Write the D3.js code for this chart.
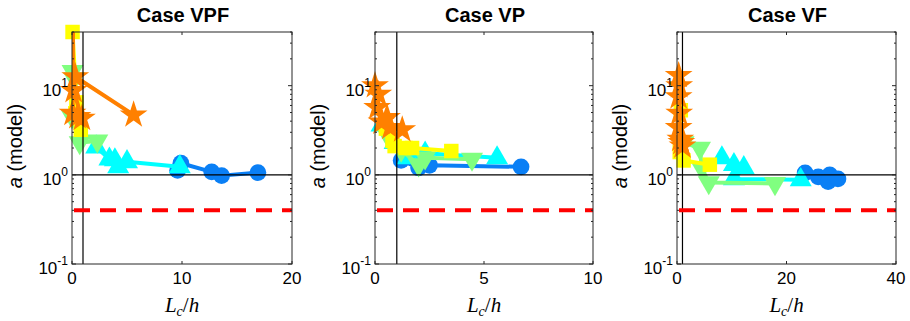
<!DOCTYPE html>
<html>
<head>
<meta charset="utf-8">
<script src="https://cdn.jsdelivr.net/npm/d3@7"></script>
<style>
  body { margin: 0; background: #fff; }
  text { font-family: "Liberation Sans", Arial, sans-serif; fill: #000; }
</style>
</head>
<body>
<svg id="chart" width="910" height="321"></svg>
<script>
// ---- data: [Lc/h, a] ----
var vpfBlue   = [[9.6,1.12],[9.9,1.35],[12.7,1.08],[13.6,0.98],[16.9,1.06]];
var vpfCyan   = [[2.2,2.05],[3.4,1.5],[3.9,1.47],[4.2,1.23],[5.0,1.4],[9.8,1.23]];
var vpfGreen  = [[0.05,14.5],[0.2,12],[0.0,4.5],[0.7,2.3],[2.3,2.4]];
var vpfYellow = [[0.05,40],[0.4,6.5],[0.3,4.9],[0.8,3.2]];
var vpfOrange = [[0.1,60],[0.05,4.9],[0.5,4.5],[0.9,4.3],[0.15,8.8],[0.3,12.6],[5.6,4.7]];

var vpBlue   = [[1.2,1.45],[2.0,1.2],[2.5,1.28],[6.7,1.23]];
var vpCyan   = [[0.3,3.6],[0.9,2.3],[1.5,1.55],[2.3,1.75],[5.6,1.55]];
var vpGreen  = [[0.5,3.0],[1.2,1.9],[2.0,1.3],[2.3,1.55],[4.45,1.5]];
var vpYellow = [[0.5,3.3],[0.8,2.4],[0.9,2.1],[1.4,2.0],[1.7,2.0],[3.5,1.85]];
var vpOrange = [[0.0,10],[0.15,8],[0.1,5.7],[0.3,3.9],[0.55,4.4],[0.7,3.4],[1.25,3.2]];

var vfBlue   = [[23.4,1.05],[25.8,0.95],[27.9,1.0],[27.6,0.84],[29.4,0.9]];
var vfCyan   = [[8.2,1.55],[10.4,1.3],[12.2,1.2],[10.4,0.9],[22.6,0.88]];
var vfGreen  = [[1.2,2.3],[4.2,2.0],[4.5,1.2],[5.8,0.82],[17.9,0.8]];
var vfYellow = [[0.7,5.3],[0.5,1.8],[1.2,1.45],[6.0,1.3]];
var vfOrange = [[0.3,13],[0.4,10],[0.3,7.5],[0.4,4.9],[0.3,3.4],[0.6,2.5],[1.0,2.1],[0.8,2.3]];

var titles = ["Case VPF", "Case VP", "Case VF"];
var xMaxes = [20, 10, 40];
var xTickSets = [[0, 10, 20], [0, 5, 10], [0, 20, 40]];
var yDomain = [0.1, 40];
var yTicks = [0.1, 1, 10];
var refLevel = 0.4;   // red dashed line

var seriesColors = ["#0a7ff5", "#00ffff", "#80ff80", "#ffff00", "#ff8000"];
var seriesMarkers = ["circle", "up", "down", "square", "star"];
var panelSeries = [
  [vpfBlue, vpfCyan, vpfGreen, vpfYellow, vpfOrange],
  [vpBlue, vpCyan, vpGreen, vpYellow, vpOrange],
  [vfBlue, vfCyan, vfGreen, vfYellow, vfOrange]
];

var svg = d3.select("#chart");
var lefts = [72, 375, 677];
var axW = [220, 218, 219];
var axTop = 32, axBottom = 264;

function symbolFor(kind) {
  if (kind === "circle") return d3.symbol(d3.symbolCircle, 220)();
  if (kind === "square") return d3.symbol(d3.symbolSquare, 210)();
  if (kind === "star") return d3.symbol(d3.symbolStar, 240)();
  return d3.symbol(d3.symbolTriangle, 210)();
}

titles.forEach(function (title, i) {
  var x = d3.scaleLinear().domain([0, xMaxes[i]]).range([lefts[i], lefts[i] + axW[i]]);
  var y = d3.scaleLog().domain(yDomain).range([axBottom, axTop]);
  var g = svg.append("g");

  var clipId = "clip" + i;
  svg.append("clipPath").attr("id", clipId).append("rect")
    .attr("x", x.range()[0]).attr("y", axTop)
    .attr("width", axW[i]).attr("height", axBottom - axTop);

  // series: line then markers
  panelSeries[i].forEach(function (pts, k) {
    var line = d3.line().x(function (d) { return x(d[0]); }).y(function (d) { return y(d[1]); });
    g.append("path").datum(pts)
      .attr("d", line)
      .attr("clip-path", "url(#" + clipId + ")")
      .attr("fill", "none")
      .attr("stroke", seriesColors[k])
      .attr("stroke-width", 4)
      .attr("stroke-linejoin", "round");
    g.selectAll(null)
      .data(pts.filter(function (d) { return d[1] <= yDomain[1] * 1.01; }))
      .enter().append("path")
      .attr("d", symbolFor(seriesMarkers[k]))
      .attr("transform", function (d) {
        var t = "translate(" + x(d[0]) + "," + y(d[1]) + ")";
        return seriesMarkers[k] === "down" ? t + " rotate(180)" : t;
      })
      .attr("fill", seriesColors[k]);
  });

  // reference lines
  g.append("line")
    .attr("x1", x(1)).attr("x2", x(1)).attr("y1", axTop).attr("y2", axBottom)
    .attr("stroke", "#000").attr("stroke-width", 1.2);
  g.append("line")
    .attr("x1", x.range()[0]).attr("x2", x.range()[1]).attr("y1", y(1)).attr("y2", y(1))
    .attr("stroke", "#000").attr("stroke-width", 1.2);
  g.append("line")
    .attr("x1", x.range()[0] + 2).attr("x2", x.range()[1]).attr("y1", y(refLevel)).attr("y2", y(refLevel))
    .attr("stroke", "#ff0000").attr("stroke-width", 4)
    .attr("stroke-dasharray", "16,10");

  // box
  g.append("rect")
    .attr("x", x.range()[0]).attr("y", axTop)
    .attr("width", axW[i]).attr("height", axBottom - axTop)
    .attr("fill", "none").attr("stroke", "#262626").attr("stroke-width", 1);

  // x ticks (inside, bottom and top)
  xTickSets[i].forEach(function (v) {
    g.append("line").attr("x1", x(v)).attr("x2", x(v)).attr("y1", axBottom).attr("y2", axBottom - 3)
      .attr("stroke", "#262626");
    g.append("line").attr("x1", x(v)).attr("x2", x(v)).attr("y1", axTop).attr("y2", axTop + 3)
      .attr("stroke", "#262626");
    g.append("text").attr("x", x(v)).attr("y", axBottom + 20)
      .attr("text-anchor", "middle").style("font-size", "17px").text(v);
  });

  // y ticks: major + minor log ticks, inside both sides
  var minor = [];
  [0.1, 1, 10].forEach(function (dec) {
    for (var m = 1; m <= 9; m++) {
      var v = dec * m;
      if (v <= yDomain[1]) minor.push({ v: v, major: m === 1 });
    }
  });
  minor.forEach(function (t) {
    var len = t.major ? 4 : 2;
    g.append("line").attr("x1", x.range()[0]).attr("x2", x.range()[0] + len)
      .attr("y1", y(t.v)).attr("y2", y(t.v)).attr("stroke", "#262626");
    g.append("line").attr("x1", x.range()[1]).attr("x2", x.range()[1] - len)
      .attr("y1", y(t.v)).attr("y2", y(t.v)).attr("stroke", "#262626");
  });
  yTicks.forEach(function (v) {
    var lbl = g.append("text")
      .attr("x", x.range()[0] - 4).attr("y", y(v) + 10)
      .attr("text-anchor", "end").style("font-size", "17px");
    lbl.append("tspan").text("10");
    lbl.append("tspan").attr("dy", -9).style("font-size", "12px").text(Math.round(Math.log10(v)));
  });

  // title
  g.append("text").attr("x", (x.range()[0] + x.range()[1]) / 2 + 1).attr("y", 22)
    .attr("text-anchor", "middle").style("font-size", "20px").style("font-weight", "bold")
    .text(title);

  // y label
  var yl = g.append("text")
    .attr("transform", "translate(" + (x.range()[0] - 50) + "," + ((axTop + axBottom) / 2 - 2) + ") rotate(-90)")
    .attr("text-anchor", "middle").style("font-size", "20px");
  yl.append("tspan").style("font-style", "italic").text("a");
  yl.append("tspan").text(" (model)");

  // x label
  var xl = g.append("text")
    .attr("x", (x.range()[0] + x.range()[1]) / 2).attr("y", 312)
    .attr("text-anchor", "middle")
    .style("font-family", "'Liberation Serif', 'DejaVu Serif', serif")
    .style("font-size", "21px").style("font-style", "italic");
  xl.append("tspan").text("L");
  xl.append("tspan").attr("dy", 4).style("font-size", "14px").text("c");
  xl.append("tspan").attr("dy", -4).style("font-style", "normal").text("/");
  xl.append("tspan").text("h");
});
</script>
</body>
</html>
